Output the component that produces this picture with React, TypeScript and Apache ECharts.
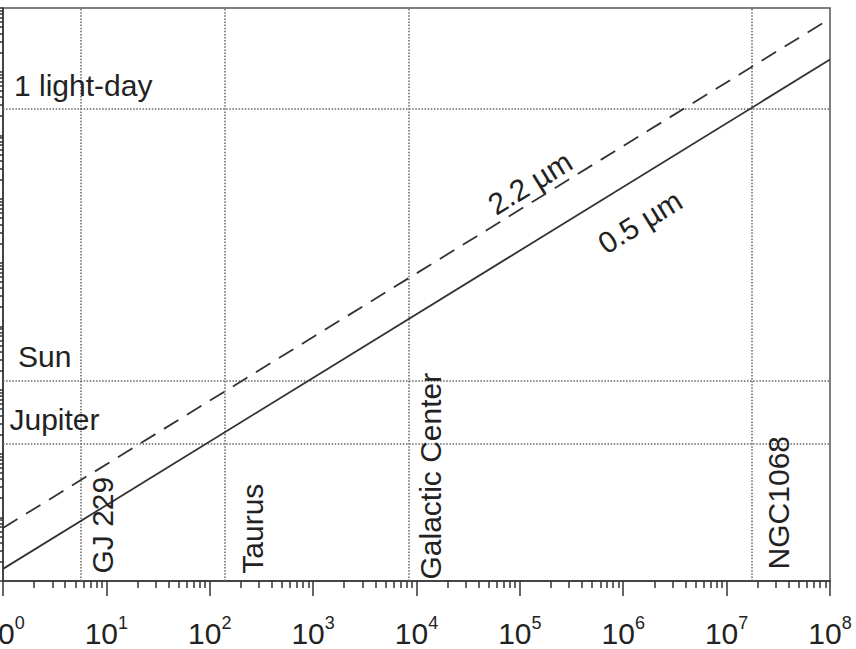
import React, { useEffect, useRef } from 'react';
import * as echarts from 'echarts';

// ---- data (distance in pc, linear size in km) ----
const distanceMin = 1;
const distanceMax = 1e8;
const sizeMin = 1e3;
const sizeMax = 1e12;
const decadeTicks = [1, 10, 100, 1000, 1e4, 1e5, 1e6, 1e7, 1e8];
const resolution05um = [
  [1, 1550],
  [1e8, 1.55e11],
];
const resolution22um = [
  [1, 6800],
  [1e8, 6.8e11],
];
const objectNames = ['GJ 229', 'Taurus', 'Galactic Center', 'NGC1068'];
const objectDistances = [5.6, 140, 8500, 1.75e7];
const scaleNames = ['1 light-day', 'Sun', 'Jupiter'];
const scaleSizes = [2.59e10, 1.39e6, 1.43e5];
const lineLabelNames = ['2.2 µm', '0.5 µm'];
const lineLabelDistances = [1.25e5, 1.45e6];

// ---- layout (pixels) ----
const objectLabelOffsets = [
  [22, -7.5],
  [27.5, -7.3],
  [21, -1.5],
  [27, -11.6],
];
const scaleLabelOffsets = [
  [11, -24],
  [15, -24],
  [6.5, -24.5],
];
const lineLabelOffsets = [-20.5, 45.3];

const FONT = '"Liberation Sans", Arial, Helvetica, sans-serif';
const TEXT = '#222';

function minorValues(min: number, max: number): number[] {
  const out: number[] = [];
  for (let d = min; d < max; d *= 10) {
    for (let k = 2; k <= 9; k++) out.push(k * d);
  }
  return out;
}
function allValues(min: number, max: number): number[] {
  const out: number[] = [];
  for (let d = min; d <= max; d *= 10) {
    out.push(d);
    if (d < max) for (let k = 2; k <= 9; k++) out.push(k * d);
  }
  return out;
}

export default function App() {
  const ref = useRef<HTMLDivElement>(null);

  useEffect(() => {
    if (!ref.current) return;
    const chart = echarts.init(ref.current, undefined, { renderer: 'svg' });

    const dotted = { color: '#666', width: 1.5, type: [1.5, 1.6] as number[] };

    const option: any = {
      animation: false,
      backgroundColor: '#ffffff',
      grid: {
        left: 3,
        right: 26,
        top: 8,
        bottom: 68,
        show: true,
        borderColor: '#555',
        borderWidth: 1.5,
        containLabel: false,
        outerBoundsMode: 'none',
      },
      xAxis: [
        {
          type: 'log',
          min: distanceMin,
          max: distanceMax,
          position: 'bottom',
          axisLine: { show: true, lineStyle: { color: '#333', width: 1.5 } },
          axisTick: {
            show: true,
            customValues: decadeTicks,
            length: 15,
            inside: false,
            lineStyle: { color: '#333', width: 1.5 },
          },
          minorTick: { show: false },
          splitLine: { show: false },
          axisLabel: {
            show: true,
            customValues: decadeTicks,
            margin: 33,
            color: TEXT,
            formatter: (v: number) => `{b|10}{s|${Math.round(Math.log10(v))}}`,
            rich: {
              b: { fontSize: 30, lineHeight: 39, fontFamily: FONT, color: TEXT },
              s: { fontSize: 18, lineHeight: 18, verticalAlign: 'top', fontFamily: FONT, color: TEXT },
            },
          },
        },
        {
          type: 'log',
          min: distanceMin,
          max: distanceMax,
          position: 'bottom',
          axisLine: { show: false },
          axisTick: {
            show: true,
            customValues: minorValues(distanceMin, distanceMax),
            length: 7,
            inside: false,
            lineStyle: { color: '#333', width: 1.5 },
          },
          minorTick: { show: false },
          splitLine: { show: false },
          axisLabel: { show: false },
        },
      ],
      yAxis: {
        type: 'log',
        min: sizeMin,
        max: sizeMax,
        position: 'left',
        axisLine: { show: true, lineStyle: { color: '#333', width: 1.5 } },
        axisTick: {
          show: true,
          customValues: allValues(sizeMin, sizeMax),
          length: 7,
          inside: false,
          lineStyle: { color: '#333', width: 1.5 },
        },
        minorTick: { show: false },
        splitLine: { show: false },
        axisLabel: { show: false },
      },
      series: [
        {
          name: '0.5 µm',
          type: 'line',
          xAxisIndex: 0,
          yAxisIndex: 0,
          data: resolution05um,
          symbol: 'none',
          lineStyle: { color: '#333', width: 1.8, type: 'solid' },
          z: 3,
          markLine: {
            silent: true,
            symbol: ['none', 'none'],
            label: { show: false },
            lineStyle: dotted,
            z: 1,
            data: [
              ...objectDistances.map((d) => ({ xAxis: d })),
              ...scaleSizes.map((s) => ({ yAxis: s })),
            ],
          },
        },
        {
          name: '2.2 µm',
          type: 'line',
          xAxisIndex: 0,
          yAxisIndex: 0,
          data: resolution22um,
          symbol: 'none',
          lineStyle: { color: '#333', width: 1.8, type: [17, 10] },
          z: 3,
        },
      ],
    };

    chart.setOption(option);

    const toX = (v: number) => chart.convertToPixel({ xAxisIndex: 0 } as any, v) as unknown as number;
    const toY = (v: number) => chart.convertToPixel({ yAxisIndex: 0 } as any, v) as unknown as number;

    const textStyle = (text: string, align: string, vAlign: string) => ({
      text,
      fontFamily: FONT,
      fontSize: 30,
      fill: TEXT,
      textAlign: align,
      textVerticalAlign: vAlign,
      align,
      verticalAlign: vAlign,
    });

    const bottomY = toY(sizeMin);
    const leftX = toX(distanceMin);
    const elements: any[] = [];

    objectNames.forEach((name, i) => {
      elements.push({
        type: 'text',
        x: toX(objectDistances[i]) + objectLabelOffsets[i][0],
        y: bottomY + objectLabelOffsets[i][1],
        rotation: Math.PI / 2,
        style: textStyle(name, 'left', 'middle'),
        z: 10,
      });
    });

    scaleNames.forEach((name, i) => {
      elements.push({
        type: 'text',
        x: leftX + scaleLabelOffsets[i][0],
        y: toY(scaleSizes[i]) + scaleLabelOffsets[i][1],
        style: textStyle(name, 'left', 'middle'),
        z: 10,
      });
    });

    const lineSeries = [resolution22um, resolution05um];
    lineLabelNames.forEach((name, i) => {
      const pts = lineSeries[i];
      const ax = toX(pts[0][0]);
      const ay = toY(pts[0][1]);
      const bx = toX(pts[1][0]);
      const by = toY(pts[1][1]);
      const px = toX(lineLabelDistances[i]);
      const t = (px - ax) / (bx - ax);
      const py = ay + t * (by - ay) + lineLabelOffsets[i];
      const rot = -Math.atan2(by - ay, bx - ax);
      elements.push({
        type: 'text',
        x: px,
        y: py,
        rotation: rot,
        style: textStyle(name, 'center', 'middle'),
        z: 10,
      });
    });

    chart.setOption({ graphic: { elements } });

    return () => {
      chart.dispose();
    };
  }, []);

  return (
    <div
      ref={ref}
      style={{ position: 'absolute', left: 0, top: 0, width: 856, height: 649, background: '#fff' }}
    />
  );
}
